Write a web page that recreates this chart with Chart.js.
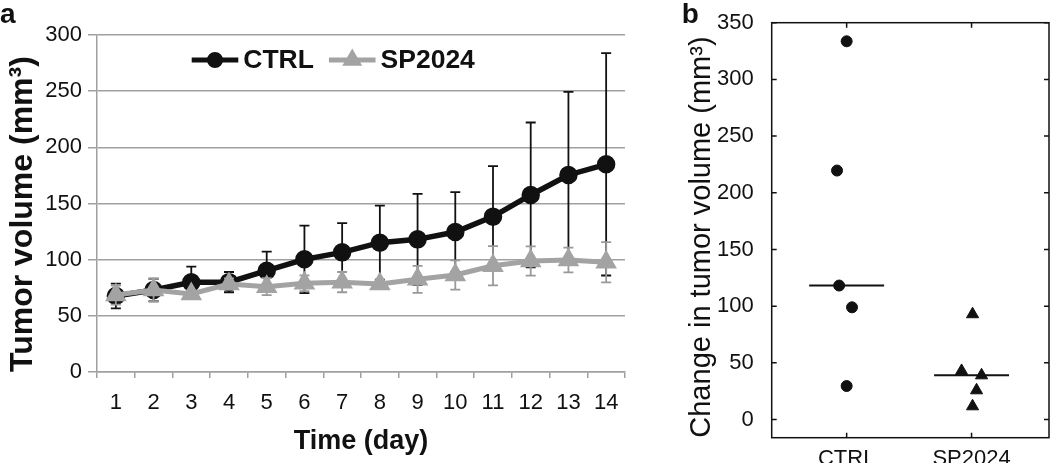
<!DOCTYPE html>
<html><head><meta charset="utf-8">
<script src="https://cdn.jsdelivr.net/npm/chart.js@4.4.1/dist/chart.umd.min.js"></script>
<style>
html,body{margin:0;padding:0;background:#fff;width:1050px;height:463px;overflow:hidden;}
#ca{position:absolute;left:0;top:0;}
#cb{position:absolute;left:650px;top:0;}
</style></head><body>
<canvas id="ca" width="650" height="463"></canvas>
<canvas id="cb" width="400" height="463"></canvas>
<script>
// ---------- Panel a data ----------
const days = ['1','2','3','4','5','6','7','8','9','10','11','12','13','14'];
const seriesNames = ['CTRL', 'SP2024'];
const ctrlMean = [67.6, 73, 79.8, 80, 90.2, 100.3, 106.5, 115.1, 118.1, 124.6, 138.3, 157.6, 175.4, 184.9];
const ctrlErr  = [11, 10, 14, 9, 17, 30, 26, 33, 40.5, 35.5, 45, 64.5, 74, 99];
const spMean   = [68.5, 73, 69.4, 78.3, 76, 79, 80, 78.3, 82.5, 86.4, 94.6, 98.8, 99.7, 97.7];
const spErr    = [8.5, 10, 3, 5, 7.5, 7, 9, 3, 12, 13, 17.5, 13, 11, 18];
const volumeTicks = [0, 50, 100, 150, 200, 250, 300];

// ---------- Panel b data ----------
const groups = ['CTRL', 'SP2024'];
const changeCtrl = [333.6, 219.6, 118.2, 99, 29.6];
const jitterCtrl = [0, -0.077, -0.06, 0.043, 0];
const changeSp   = [92.9, 42.9, 39, 25.8, 11.7];
const jitterSp   = [0.008, -0.08, 0.08, 0.04, 0.008];
const changeTicks = [0, 50, 100, 150, 200, 250, 300, 350];

Chart.defaults.font.family = "'Liberation Sans', Arial, Helvetica, sans-serif";
Chart.defaults.color = '#111';

const GRAY = '#a3a3a3';
const GRID = '#a0a0a0';

function median(arr){ const s=[...arr].sort((a,b)=>a-b); const m=Math.floor(s.length/2); return s.length%2? s[m] : (s[m-1]+s[m])/2; }

const errorBars = {
  id: 'errorBars',
  beforeDatasetDraw(chart, args) {
    const ds = chart.data.datasets[args.index];
    if (!ds.errors) return;
    const ys = chart.scales.y, ctx = chart.ctx;
    ctx.save();
    ctx.strokeStyle = ds.errorColor; ctx.lineWidth = 1.8;
    args.meta.data.forEach((pt, i) => {
      const v = ds.data[i], e = ds.errors[i];
      const yt = ys.getPixelForValue(v + e), yb = ys.getPixelForValue(v - e);
      const x = pt.x;
      ctx.beginPath();
      ctx.moveTo(x, yt); ctx.lineTo(x, yb);
      ctx.moveTo(x - 5, yt); ctx.lineTo(x + 5, yt);
      ctx.moveTo(x - 5, yb); ctx.lineTo(x + 5, yb);
      ctx.stroke();
    });
    ctx.restore();
  }
};

const legendA = {
  id: 'legendA',
  afterDraw(chart) {
    const ctx = chart.ctx, a = chart.chartArea;
    const y = a.top + 25;
    let x = a.left + 94.7;
    ctx.save();
    ctx.font = "bold 26.5px 'Liberation Sans', Arial, sans-serif";
    ctx.textBaseline = 'middle';
    chart.data.datasets.slice().sort((p,q)=>p.legendIndex-q.legendIndex).forEach(ds => {
      ctx.strokeStyle = ds.borderColor; ctx.lineWidth = 5;
      ctx.beginPath(); ctx.moveTo(x, y); ctx.lineTo(x + 46.6, y); ctx.stroke();
      ctx.fillStyle = ds.pointBackgroundColor; ctx.strokeStyle = ds.pointBackgroundColor;
      Chart.helpers.drawPoint(ctx, {pointStyle: ds.pointStyle, radius: ds.legendRadius, rotation: 0, borderWidth: 1}, x + 23.3, y);
      ctx.fillStyle = '#111';
      ctx.fillText(ds.label, x + 51.6, y + 1);
      x = x + 51.6 + ctx.measureText(ds.label).width + 15;
    });
    ctx.font = "bold 28px 'Liberation Sans', Arial, sans-serif";
    ctx.textBaseline = 'alphabetic';
    ctx.fillText('a', 0, 23);
    ctx.restore();
  }
};

new Chart(document.getElementById('ca'), {
  type: 'line',
  data: {
    labels: days,
    datasets: [
      { label: seriesNames[0], data: ctrlMean, errors: ctrlErr, errorColor: '#111', legendIndex: 0,
        borderColor: '#111', borderWidth: 5.5, pointStyle: 'circle', pointRadius: 6.5, legendRadius: 5.5,
        pointBackgroundColor: '#111', pointBorderColor: '#111', order: 1, tension: 0 },
      { label: seriesNames[1], data: spMean, errors: spErr, errorColor: '#999', legendIndex: 1,
        borderColor: GRAY, borderWidth: 5, pointStyle: 'triangle', pointRadius: 7.5, legendRadius: 6.5,
        pointBackgroundColor: GRAY, pointBorderColor: GRAY, order: 0, tension: 0 }
    ]
  },
  options: {
    responsive: false, animation: false,
    layout: { autoPadding: false, padding: { top: 35, right: 25, left: 0, bottom: 0 } },
    plugins: { legend: { display: false }, tooltip: { enabled: false } },
    scales: {
      x: {
        type: 'category', offset: true,
        grid: { offset: true, drawOnChartArea: false, drawTicks: true, tickLength: 6, color: GRID, lineWidth: 1.5 },
        border: { display: true, color: GRID, width: 1.5 },
        ticks: { font: { size: 22 }, color: '#111', padding: 12, maxRotation: 0, autoSkip: false },
        title: { display: true, text: 'Time (day)', font: { size: 27, weight: 'bold' }, color: '#111', padding: { top: 0, bottom: 5 } },
        afterFit(s) { s.height = 91; }
      },
      y: {
        min: 0, max: 300,
        afterBuildTicks(s) { s.ticks = volumeTicks.map(v => ({ value: v })); },
        grid: { color: GRID, lineWidth: 1.5, tickLength: 9 },
        border: { display: true, color: GRID, width: 1.5 },
        ticks: { font: { size: 22 }, color: '#111', padding: 6 },
        title: { display: true, text: 'Tumor volume (mm³)', align: 'start', font: { size: 32, weight: 'bold' }, color: '#111', padding: { top: 4, bottom: 0 } },
        afterFit(s) { s.width = 97; }
      }
    }
  },
  plugins: [errorBars, legendA]
});

// ---------- Panel b ----------
const boxTicks = {
  id: 'boxTicks',
  afterDraw(chart) {
    const ctx = chart.ctx, a = chart.chartArea, xs = chart.scales.x, ys = chart.scales.y;
    ctx.save();
    ctx.strokeStyle = '#111'; ctx.lineWidth = 1.5;
    ctx.strokeRect(a.left, a.top, a.right - a.left, a.bottom - a.top);
    ctx.beginPath();
    ys.ticks.forEach(t => {
      const y = ys.getPixelForValue(t.value);
      ctx.moveTo(a.left, y); ctx.lineTo(a.left + 5, y);
      ctx.moveTo(a.right, y); ctx.lineTo(a.right - 5, y);
    });
    xs.ticks.forEach(t => {
      const x = xs.getPixelForValue(t.value);
      ctx.moveTo(x, a.bottom); ctx.lineTo(x, a.bottom - 5);
      ctx.moveTo(x, a.top); ctx.lineTo(x, a.top + 5);
    });
    ctx.stroke();
    ctx.fillStyle = '#111';
    ctx.font = "bold 28px 'Liberation Sans', Arial, sans-serif";
    ctx.fillText('b', 31.7, 23);
    ctx.restore();
  }
};

const medCtrl = median(changeCtrl), medSp = median(changeSp);
const halfW = 0.3;

new Chart(document.getElementById('cb'), {
  type: 'scatter',
  data: {
    datasets: [
      { label: groups[0], data: changeCtrl.map((v, i) => ({ x: 1 + jitterCtrl[i], y: v })),
        pointStyle: 'circle', pointRadius: 5.5, backgroundColor: '#111', borderColor: '#111' },
      { label: groups[1], data: changeSp.map((v, i) => ({ x: 2 + jitterSp[i], y: v })),
        pointStyle: 'triangle', pointRadius: 7, backgroundColor: '#111', borderColor: '#111' },
      { label: 'median ' + groups[0], data: [{ x: 1 - halfW, y: medCtrl }, { x: 1 + halfW, y: medCtrl }],
        showLine: true, pointRadius: 0, borderColor: '#111', borderWidth: 2 },
      { label: 'median ' + groups[1], data: [{ x: 2 - halfW, y: medSp }, { x: 2 + halfW, y: medSp }],
        showLine: true, pointRadius: 0, borderColor: '#111', borderWidth: 2 }
    ]
  },
  options: {
    responsive: false, animation: false,
    layout: { autoPadding: false, padding: { top: 22.7, right: 1, left: 0, bottom: 0 } },
    plugins: { legend: { display: false }, tooltip: { enabled: false } },
    scales: {
      x: {
        type: 'linear', min: 0.4, max: 2.62,
        afterBuildTicks(s) { s.ticks = groups.map((g, i) => ({ value: i + 1 })); },
        grid: { display: false }, border: { display: false },
        ticks: { font: { size: 22 }, color: '#111', padding: 0, callback: (v) => groups[v - 1] },
        afterFit(s) { s.height = 25.3; s.paddingLeft = 0; s.paddingRight = 0; }
      },
      y: {
        min: -16, max: 350,
        afterBuildTicks(s) { s.ticks = changeTicks.map(v => ({ value: v })); },
        grid: { display: false }, border: { display: false },
        ticks: { font: { size: 22 }, color: '#111', padding: 10 },
        title: { display: true, text: 'Change in tumor volume (mm³)', align: 'start', font: { size: 29 }, color: '#111', padding: { top: 35, bottom: 0 } },
        afterFit(s) { s.width = 121.7; s.paddingTop = 0; s.paddingBottom = 0; }
      }
    }
  },
  plugins: [boxTicks]
});
</script>
</body></html>
